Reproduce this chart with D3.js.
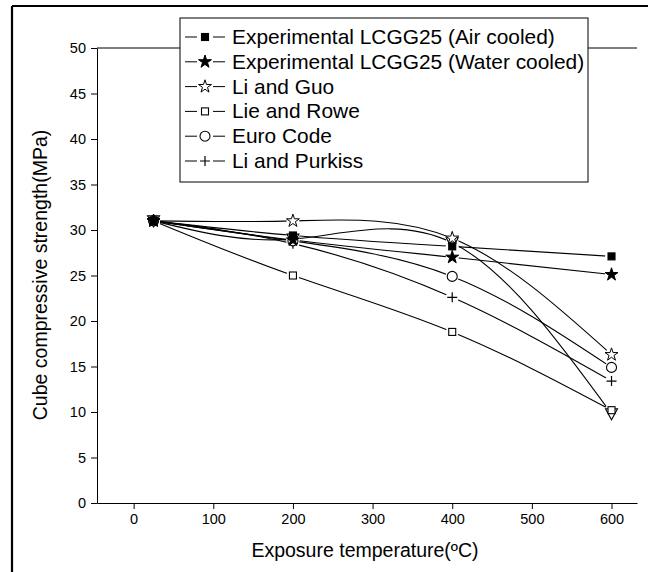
<!DOCTYPE html>
<html lang="en">
<head>
<meta charset="UTF-8">
<title>Cube compressive strength</title>
<style>
  body { margin: 0; background: #fff; }
  svg { font-family: Arial, "Liberation Sans", sans-serif; }
  .axis path, .axis line { stroke: #000; stroke-width: 1px; }
  .axis text { font-size: 14.5px; fill: #000; }
</style>
<script src="https://d3js.org/d3.v7.min.js"></script>
</head>
<body>
<svg id="chart" width="648" height="572"></svg>
<script>
// temperatures (°C)
const temps = [25, 200, 400, 600];

// series values (MPa)
const airCooled   = [31, 29.4, 28.2, 27.1];
const waterCooled = [31, 28.9, 27.0, 25.1];
const liGuo       = [31, 31.0, 29.1, 16.3];
const lieRowe     = [31, 25.0, 18.8, 10.2];
const euroCode    = [31, 28.8, 24.9, 14.9];
const liPurkiss   = [31, 28.5, 22.6, 13.4];
const hidden7     = [31, 29.0, 28.6, 9.8];

const seriesNames = [
  "Experimental LCGG25 (Air cooled)",
  "Experimental LCGG25 (Water cooled)",
  "Li and Guo",
  "Lie and Rowe",
  "Euro Code",
  "Li and Purkiss"
];
const xTicks = [0, 100, 200, 300, 400, 500, 600];
const yTicks = [0, 5, 10, 15, 20, 25, 30, 35, 40, 45, 50];

const series = [
  { name: seriesNames[0], values: airCooled,   sym: "sqFill" },
  { name: seriesNames[1], values: waterCooled, sym: "starFill" },
  { name: seriesNames[2], values: liGuo,       sym: "star" },
  { name: seriesNames[3], values: lieRowe,     sym: "sq" },
  { name: seriesNames[4], values: euroCode,    sym: "circle" },
  { name: seriesNames[5], values: liPurkiss,   sym: "plus" },
  { name: null,           values: hidden7,     sym: "tri" }
];

const svg = d3.select("#chart");

// frame of the figure (left and top edge)
svg.append("line").attr("x1", 12).attr("x2", 12).attr("y1", 6).attr("y2", 572)
  .attr("stroke", "#000").attr("stroke-width", 2.2);
svg.append("line").attr("x1", 12).attr("x2", 648).attr("y1", 6).attr("y2", 6)
  .attr("stroke", "#000").attr("stroke-width", 2.2);

const x = d3.scaleLinear().domain([-46, 632]).range([97, 637]);
const y = d3.scaleLinear().domain([0, 50]).range([503, 48]);

// top border of plot
svg.append("line").attr("x1", x(-46)).attr("x2", x(632)).attr("y1", y(50)).attr("y2", y(50))
  .attr("stroke", "#000");

svg.append("g").attr("class", "axis")
  .attr("transform", `translate(0,${y(0)})`)
  .call(d3.axisBottom(x).tickValues(xTicks).tickSize(6).tickSizeOuter(0).tickPadding(5));
svg.append("g").attr("class", "axis")
  .attr("transform", `translate(${x(-46)},0)`)
  .call(d3.axisLeft(y).tickValues(yTicks).tickSize(6).tickSizeOuter(0).tickPadding(5));

svg.append("text").attr("x", 365).attr("y", 557).attr("text-anchor", "middle")
  .attr("font-size", 19.5).text("Exposure temperature(\u00BAC)");
svg.append("text").attr("transform", "translate(47,275) rotate(-90)")
  .attr("text-anchor", "middle").attr("font-size", 19.5)
  .text("Cube compressive strength(MPa)");

const line = d3.line().x((d, i) => x(temps[i])).y(d => y(d)).curve(d3.curveNatural);

const lines = svg.append("g");
series.forEach(s => {
  lines.append("path").attr("d", line(s.values))
    .attr("fill", "none").attr("stroke", "#000").attr("stroke-width", 1.1);
});

// gaps around markers
const halo = svg.append("g");
series.forEach(s => {
  s.values.forEach((v, i) => {
    halo.append("circle").attr("cx", x(temps[i])).attr("cy", y(v)).attr("r", 6.5).attr("fill", "#fff");
  });
});

function drawSymbol(g, sym, cx, cy) {
  const t = `translate(${cx},${cy})`;
  if (sym === "sqFill" || sym === "sq") {
    g.append("rect").attr("x", cx - 3.5).attr("y", cy - 3.5).attr("width", 7).attr("height", 7)
      .attr("fill", sym === "sqFill" ? "#000" : "#fff").attr("stroke", "#000").attr("stroke-width", 1.1);
  } else if (sym === "starFill" || sym === "star") {
    g.append("path").attr("transform", t).attr("d", d3.symbol(d3.symbolStar, 52)())
      .attr("fill", sym === "starFill" ? "#000" : "#fff").attr("stroke", "#000").attr("stroke-width", 1);
  } else if (sym === "circle") {
    g.append("circle").attr("cx", cx).attr("cy", cy).attr("r", 5)
      .attr("fill", "#fff").attr("stroke", "#000").attr("stroke-width", 1.1);
  } else if (sym === "plus") {
    g.append("path").attr("d", `M${cx - 5},${cy}H${cx + 5}M${cx},${cy - 5}V${cy + 5}`)
      .attr("stroke", "#000").attr("stroke-width", 1.2);
  } else if (sym === "tri") {
    g.append("path").attr("d", `M${cx - 6},${cy - 5}H${cx + 6}L${cx},${cy + 6}Z`)
      .attr("fill", "#fff").attr("stroke", "#000").attr("stroke-width", 1.1);
  }
}

const marks = svg.append("g");
// draw the unlabelled series first so the others sit on top
[...series].reverse().forEach(s => {
  s.values.forEach((v, i) => drawSymbol(marks, s.sym, x(temps[i]), y(v)));
});

// legend
const lg = svg.append("g");
lg.append("rect").attr("x", 180).attr("y", 18).attr("width", 408).attr("height", 164)
  .attr("fill", "#fff").attr("stroke", "#000").attr("stroke-width", 1);
series.filter(s => s.name).forEach((s, i) => {
  const ly = 37 + i * 24.8;
  lg.append("line").attr("x1", 185).attr("x2", 197).attr("y1", ly).attr("y2", ly).attr("stroke", "#000");
  lg.append("line").attr("x1", 213).attr("x2", 225).attr("y1", ly).attr("y2", ly).attr("stroke", "#000");
  drawSymbol(lg, s.sym, 205, ly);
  lg.append("text").attr("x", 232).attr("y", ly + 7).attr("font-size", 20.9).text(s.name);
});
</script>
</body>
</html>
